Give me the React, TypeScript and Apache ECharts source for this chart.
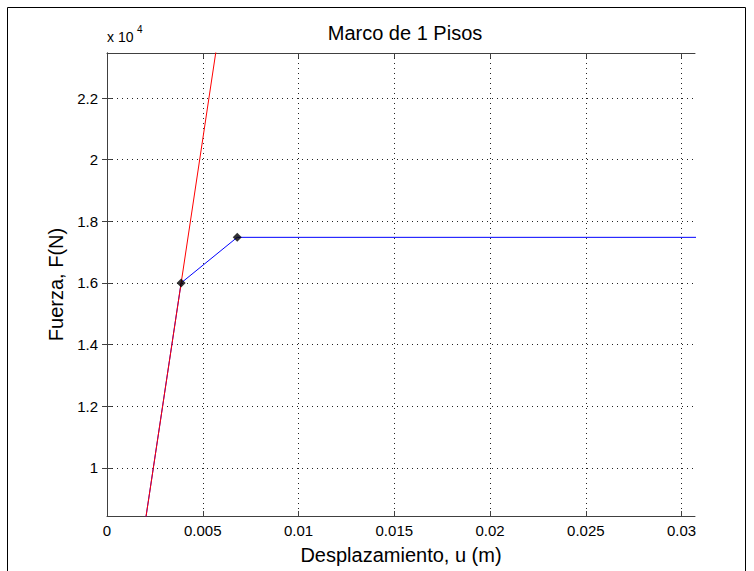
import React, { useEffect, useRef } from "react";
import * as echarts from "echarts";

// Data (displacement in m, force in N)
const elasticU = [0, 0.006];
const elasticF = [0, 24800];
const curveU = [0, 0.00387, 0.0068, 0.04];
const curveF = [0, 16000, 17480, 17480];
const pointU = [0.00387, 0.0068];
const pointF = [16000, 17480];
const xTicks = [0, 0.005, 0.01, 0.015, 0.02, 0.025, 0.03];
const yTicks = [10000, 12000, 14000, 16000, 18000, 20000, 22000];
const xRange = [0, 0.0307];
const yRange = [8440, 23460];

const FONT = "'Liberation Sans', Arial, sans-serif";

export default function App() {
  const ref = useRef<HTMLDivElement>(null);
  useEffect(() => {
    if (!ref.current) return;
    const chart = echarts.init(ref.current, null, { renderer: "svg" });
    const axisLine = { show: true, lineStyle: { color: "#404040", width: 1 } };
    const grid = { show: true, lineStyle: { color: "#222", width: 1, type: [1, 4] as any } };
    chart.setOption({
      animation: false,
      backgroundColor: "#fff",
      title: {
        text: "Marco de 1 Pisos",
        left: 400,
        textAlign: "center",
        top: 18,
        textStyle: { fontFamily: FONT, fontSize: 20, fontWeight: "normal", color: "#000" },
      },
      grid: { left: 107, top: 53, width: 588, height: 463 },
      graphic: [
        {
          type: "rect",
          silent: true,
          shape: { x: 7.5, y: 7.5, width: 738, height: 620 },
          style: { fill: "none", stroke: "#000", lineWidth: 1 },
        },
        {
          type: "text",
          left: 107,
          top: 30,
          style: { text: "x 10", fontFamily: FONT, fontSize: 14, fill: "#000" },
        },
        {
          type: "text",
          left: 137,
          top: 24,
          style: { text: "4", fontFamily: FONT, fontSize: 10, fill: "#000" },
        },
      ],
      xAxis: [
        {
          type: "value",
          min: xRange[0],
          max: xRange[1],
          name: "Desplazamiento, u (m)",
          nameLocation: "middle",
          nameGap: 29,
          nameTextStyle: { fontFamily: FONT, fontSize: 20, color: "#000" },
          axisLine,
          axisTick: { show: true, inside: true, length: 5, customValues: xTicks, lineStyle: { color: "#404040" } },
          axisLabel: {
            customValues: xTicks,
            fontFamily: FONT,
            fontSize: 15,
            color: "#000",
            margin: 7,
            formatter: (v: number) => String(v),
          },
          splitLine: grid,
        },
        {
          type: "value",
          position: "top",
          min: xRange[0],
          max: xRange[1],
          axisLine,
          axisTick: { show: true, inside: true, length: 5, customValues: xTicks, lineStyle: { color: "#404040" } },
          axisLabel: { show: false },
          splitLine: { show: false },
        },
      ],
      yAxis: [
        {
          type: "value",
          min: yRange[0],
          max: yRange[1],
          name: "Fuerza, F(N)",
          nameLocation: "middle",
          nameGap: 39,
          nameTextStyle: { fontFamily: FONT, fontSize: 20, color: "#000" },
          axisLine,
          axisTick: { show: true, inside: true, length: 5, customValues: yTicks, lineStyle: { color: "#404040" } },
          axisLabel: {
            customValues: yTicks,
            fontFamily: FONT,
            fontSize: 15,
            color: "#000",
            margin: 9,
            formatter: (v: number) => String(Math.round(v / 1000) / 10),
          },
          splitLine: grid,
        },
        {
          type: "value",
          position: "right",
          min: yRange[0],
          max: yRange[1],
          axisLine,
          axisTick: { show: true, inside: true, length: 5, customValues: yTicks, lineStyle: { color: "#404040" } },
          axisLabel: { show: false },
          splitLine: { show: false },
        },
      ],
      series: [
        {
          type: "line",
          data: curveU.map((u, i) => [u, curveF[i]]),
          symbol: "none",
          lineStyle: { color: "#0000ff", width: 1 },
          clip: true,
          z: 2,
        },
        {
          type: "line",
          data: elasticU.map((u, i) => [u, elasticF[i]]),
          symbol: "none",
          lineStyle: { color: "#ff0000", width: 1 },
          clip: true,
          z: 3,
        },
        {
          type: "scatter",
          data: pointU.map((u, i) => [u, pointF[i]]),
          symbol: "diamond",
          symbolSize: 9,
          itemStyle: { color: "#000" },
          z: 4,
        },
      ],
    });
    return () => chart.dispose();
  }, []);
  return (
    <div
      ref={ref}
      style={{ position: "fixed", left: 0, top: 0, width: 754, height: 571, background: "#fff" }}
    />
  );
}
